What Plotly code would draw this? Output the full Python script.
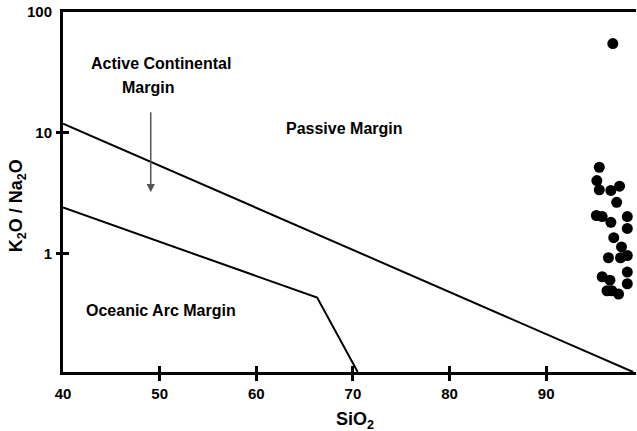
import math
import plotly.graph_objects as go

# ---- data ----
upper_x = [40, 99.0]
upper_y = [11.9, 0.104]
lower_x = [40, 66.3, 70.5]
lower_y = [2.4, 0.43, 0.104]

sample_sio2 = [96.9, 95.5, 95.25, 95.5, 96.7, 97.6, 97.3, 95.2, 95.8, 96.7,
               98.4, 98.4, 97.0, 97.8, 96.45, 98.4, 97.7, 98.4, 95.8, 98.4,
               96.6, 96.3, 97.5, 96.8]
sample_ratio = [54.7, 5.17, 4.01, 3.36, 3.32, 3.60, 2.65, 2.06, 2.02, 1.81,
                2.02, 1.61, 1.35, 1.13, 0.92, 0.96, 0.92, 0.70, 0.64, 0.56,
                0.60, 0.49, 0.46, 0.49]

x_tick_labels = [40, 50, 60, 70, 80, 90]
x_cross_ticks = [50, 60, 70, 80, 90]
y_tick_labels = [1, 10, 100]
y_cross_ticks = [1, 10]

x_range = [40, 99.3]
y_range_vals = [0.104, 100]

x_title = "<b>SiO<sub>2</sub></b>"
y_title = "<b>K<sub>2</sub>O / Na<sub>2</sub>O</b>"

region_labels = [
    ("Active Continental", 50.09, 37.2),
    ("Margin", 48.8, 23.5),
    ("Passive Margin", 69.1, 10.8),
    ("Oceanic Arc Margin", 50.15, 0.338),
]
arrow_x = 49.08
arrow_tail_y = 15.2
arrow_tip_y = 3.21

# ---- figure ----
y_range = [math.log10(v) for v in y_range_vals]
label_font = dict(family="Liberation Sans Narrow, Arial Narrow, Liberation Sans", size=16, color="black")

fig = go.Figure()
# boundaries drawn on overlay axes (identical ranges) so those axes get rendered
fig.add_trace(go.Scatter(x=upper_x, y=upper_y, mode="lines", xaxis="x2", yaxis="y2",
                         line=dict(color="black", width=2), showlegend=False))
fig.add_trace(go.Scatter(x=lower_x, y=lower_y, mode="lines", xaxis="x3", yaxis="y3",
                         line=dict(color="black", width=2), showlegend=False))
fig.add_trace(go.Scatter(x=sample_sio2, y=sample_ratio, mode="markers",
                         marker=dict(color="black", size=11), showlegend=False,
                         cliponaxis=False))

for text, xv, yv in region_labels:
    fig.add_annotation(x=xv, y=math.log10(yv), xref="x", yref="y", text=f"<b>{text}</b>",
                       showarrow=False, font=label_font)

fig.add_annotation(x=arrow_x, y=math.log10(arrow_tip_y), ax=arrow_x, ay=math.log10(arrow_tail_y),
                   xref="x", yref="y", axref="x", ayref="y", text="",
                   showarrow=True, arrowhead=2, arrowsize=1.1, arrowwidth=1.5, arrowcolor="#555555")

titlefont = dict(family="Liberation Sans, Arial", size=18, color="black")
fig.add_annotation(x=0.51, y=-0.136, xref="paper", yref="paper", text=x_title,
                   showarrow=False, font=titlefont, xanchor="center", yanchor="middle")
fig.add_annotation(x=-0.08, y=0.461, xref="paper", yref="paper", text=y_title,
                   showarrow=False, font=titlefont, textangle=-90,
                   xanchor="center", yanchor="middle")

common_x = dict(range=x_range, showgrid=False, zeroline=False)
common_y = dict(type="log", range=y_range, showgrid=False, zeroline=False)
tickfont = dict(family="Liberation Sans, Arial", size=15, color="black", weight="bold")

fig.update_layout(
    width=637, height=431,
    margin=dict(l=63, r=1, t=12, b=59),
    plot_bgcolor="white", paper_bgcolor="white",
    xaxis=dict(**common_x, tickvals=x_tick_labels, ticktext=[str(v) for v in x_tick_labels],
               ticks="", showline=True, linewidth=3, linecolor="black",
               tickfont=tickfont, ticklabelstandoff=6),
    xaxis2=dict(**common_x, overlaying="x", anchor="y2", side="bottom",
                tickvals=x_cross_ticks, ticks="outside", ticklen=6, tickwidth=3,
                tickcolor="black", showticklabels=False,
                showline=True, linewidth=3, linecolor="black", mirror=True),
    xaxis3=dict(**common_x, overlaying="x", anchor="y3", side="bottom",
                tickvals=x_cross_ticks, ticks="inside", ticklen=6, tickwidth=3,
                tickcolor="black", showticklabels=False, showline=False),
    yaxis=dict(**common_y, tickvals=y_tick_labels, ticktext=[str(v) for v in y_tick_labels],
               ticks="", showline=True, linewidth=3, linecolor="black",
               tickfont=tickfont, ticklabelstandoff=5),
    yaxis2=dict(**common_y, overlaying="y", anchor="x2", side="left",
                tickvals=y_cross_ticks, ticks="outside", ticklen=6, tickwidth=3,
                tickcolor="black", showticklabels=False, showline=False),
    yaxis3=dict(**common_y, overlaying="y", anchor="x3", side="left",
                tickvals=y_cross_ticks, ticks="inside", ticklen=6, tickwidth=3,
                tickcolor="black", showticklabels=False, showline=False),
)

fig.write_html("out.html")
